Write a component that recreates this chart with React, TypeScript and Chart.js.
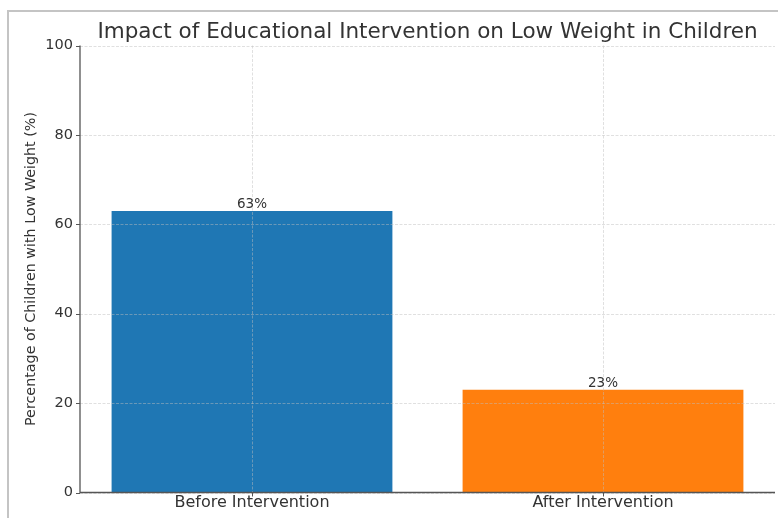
import { useEffect, useRef } from "react";
import { Chart, registerables } from "chart.js";

Chart.register(...registerables);

// Share of children with low weight, before and after the programme
const categories = ["Before Intervention", "After Intervention"];
const lowWeightPct = [63, 23];
const barColors = ["#1f77b4", "#ff7f0e"];
const yTickValues = [0, 20, 40, 60, 80, 100];
const chartTitle = "Impact of Educational Intervention on Low Weight in Children";
const yAxisTitle = "Percentage of Children with Low Weight (%)";

const FONT = "'DejaVu Sans', sans-serif";
const TEXT = "#333333";
const SPINE = "#555555";

// Dashed grid, spines, tick marks and value labels painted above the bars
const overlayPlugin = {
  id: "overlay",
  afterDatasetsDraw(chart: any) {
    const { ctx, chartArea, scales } = chart;
    const { left, right, top, bottom } = chartArea;
    const x = scales.x;
    const y = scales.y;
    ctx.save();

    ctx.strokeStyle = "rgba(190,190,190,0.6)";
    ctx.lineWidth = 0.8;
    ctx.setLineDash([3, 1.5]);
    yTickValues.forEach((v) => {
      const py = Math.round(y.getPixelForValue(v)) + 0.5;
      ctx.beginPath();
      ctx.moveTo(left, py);
      ctx.lineTo(right, py);
      ctx.stroke();
    });
    categories.forEach((_, i) => {
      const px = Math.round(x.getPixelForValue(i)) + 0.5;
      ctx.beginPath();
      ctx.moveTo(px, top);
      ctx.lineTo(px, bottom);
      ctx.stroke();
    });
    ctx.setLineDash([]);

    // spines
    ctx.strokeStyle = SPINE;
    ctx.lineWidth = 1.3;
    ctx.beginPath();
    ctx.moveTo(left, top);
    ctx.lineTo(left, bottom);
    ctx.lineTo(right, bottom);
    ctx.stroke();

    // tick marks
    ctx.lineWidth = 1;
    yTickValues.forEach((v) => {
      const py = Math.round(y.getPixelForValue(v)) + 0.5;
      ctx.beginPath();
      ctx.moveTo(left - 4, py);
      ctx.lineTo(left, py);
      ctx.stroke();
    });
    categories.forEach((_, i) => {
      const px = Math.round(x.getPixelForValue(i)) + 0.5;
      ctx.beginPath();
      ctx.moveTo(px, bottom);
      ctx.lineTo(px, bottom + 4);
      ctx.stroke();
    });

    // value labels
    ctx.fillStyle = TEXT;
    ctx.font = `13.5px ${FONT}`;
    ctx.textAlign = "center";
    ctx.textBaseline = "alphabetic";
    const meta = chart.getDatasetMeta(0);
    meta.data.forEach((bar: any, i: number) => {
      ctx.fillText(`${lowWeightPct[i]}%`, bar.x, bar.y - 2.5);
    });
    ctx.restore();
  },
};

export default function App() {
  const canvasRef = useRef<HTMLCanvasElement | null>(null);

  useEffect(() => {
    if (!canvasRef.current) return;
    const chart = new Chart(canvasRef.current, {
      type: "bar",
      data: {
        datasets: [
          {
            data: lowWeightPct.map((v, i) => ({ x: i, y: v })),
            backgroundColor: barColors,
            borderWidth: 0,
            categoryPercentage: 0.8,
            barPercentage: 1.0,
          },
        ],
      },
      options: {
        animation: false,
        responsive: true,
        maintainAspectRatio: false,
        layout: { padding: { left: 8, right: 3, top: 0, bottom: 0 } },
        plugins: {
          legend: { display: false },
          tooltip: { enabled: false },
          title: {
            display: true,
            text: chartTitle,
            fullSize: false,
            color: TEXT,
            font: { family: FONT, size: 21.5, weight: "normal", lineHeight: 1.2 },
            padding: { top: 19.5, bottom: 0.2 },
          },
        },
        scales: {
          x: {
            type: "linear",
            offset: false,
            min: -0.49,
            max: 1.49,
            afterBuildTicks: (scale: any) => {
              scale.ticks = categories.map((_, i) => ({ value: i }));
            },
            afterFit: (scale: any) => {
              scale.height = 25.5;
            },
            grid: { display: false, drawTicks: true, tickLength: 1 },
            border: { display: false },
            ticks: {
              autoSkip: false,
              maxRotation: 0,
              padding: 0,
              color: TEXT,
              font: { family: FONT, size: 16 },
              callback: (value: any) => categories[value as number] ?? "",
            },
          },
          y: {
            min: 0,
            max: 100,
            afterBuildTicks: (scale: any) => {
              scale.ticks = yTickValues.map((v) => ({ value: v }));
            },
            afterFit: (scale: any) => {
              scale.width = 72;
            },
            grid: { display: false, drawTicks: true, tickLength: 4 },
            border: { display: false },
            ticks: {
              padding: 3,
              color: TEXT,
              font: { family: FONT, size: 14.5 },
            },
            title: {
              display: true,
              text: yAxisTitle,
              color: TEXT,
              font: { family: FONT, size: 14.3, lineHeight: 1.2 },
              padding: { top: 14.5, bottom: 0 },
            },
          },
        },
      },
      plugins: [overlayPlugin],
    });
    return () => chart.destroy();
  }, []);

  return (
    <div
      style={{
        position: "fixed",
        left: 0,
        top: 0,
        width: 778,
        height: 518,
        background: "#ffffff",
        overflow: "hidden",
      }}
    >
      <div
        style={{
          position: "absolute",
          left: 7,
          top: 10,
          right: 0,
          bottom: 0,
          borderTop: "2px solid #c4c4c4",
          borderLeft: "2px solid #c4c4c4",
        }}
      />
      <canvas ref={canvasRef} style={{ position: "absolute", left: 0, top: 0 }} />
    </div>
  );
}
